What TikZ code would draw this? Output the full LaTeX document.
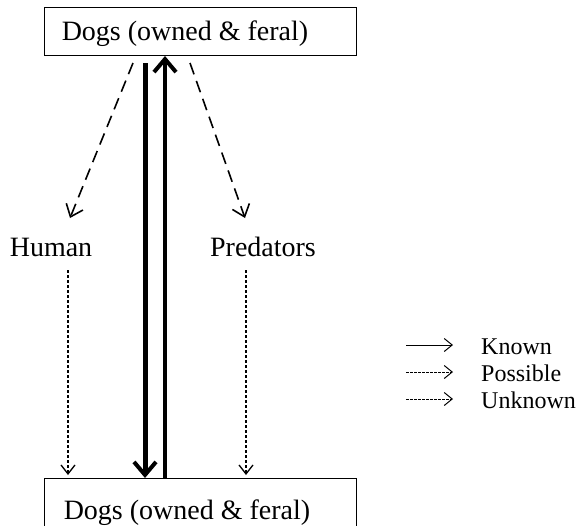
\documentclass[tikz,border=0pt]{standalone}
\usepackage{fontspec}
\setmainfont{Liberation Serif}
\usetikzlibrary{arrows.meta}
\begin{document}
\begin{tikzpicture}[x=1pt,y=-1pt,
  lbl/.style={font=\fontsize{28}{32}\selectfont,inner sep=0pt,anchor=base},
  leg/.style={font=\fontsize{24}{27}\selectfont,inner sep=0pt,anchor=base west},
  known/.style={line width=5pt,-{Straight Barb[length=13pt,width=22pt,line width=4pt]}},
  dashedarrow/.style={line width=1.6pt,dash pattern=on 12pt off 7pt,
    -{Straight Barb[length=11pt,width=18pt,line width=1.6pt]}},
  dottedarrow/.style={line width=1.4pt,dash pattern=on 3pt off 2pt,
    -{Straight Barb[length=9pt,width=14pt,line width=1.3pt]}},
  legsolid/.style={line width=1pt,-{Straight Barb[length=8pt,width=13pt,line width=1pt]}},
  legdash/.style={line width=0.8pt,dash pattern=on 2.5pt off 1.5pt,
    -{Straight Barb[length=8pt,width=13pt,line width=1pt]}}]
\useasboundingbox (0,0) rectangle (586,525);
\clip (0,0) rectangle (586,525);

% boxes
\draw[line width=0.8pt] (44,7) rectangle (356,55);
\node[lbl] (top) at (185,40) {Dogs (owned \& feral)};
\coordinate (topS1) at (145,63);
\coordinate (topS2) at (165,56);
\draw[line width=0.8pt] (44,478) rectangle (356,560);
\node[lbl] (bot) at (187,519) {Dogs (owned \& feral)};
\coordinate (botN1) at (145,478);
\coordinate (botN2) at (165,478);

% middle labels
\node[lbl] (human) at (51,256) {Human};
\node[lbl] (pred) at (263,256) {Predators};

% main arrows
\draw[known] (topS1) -- (botN1);
\draw[line width=4pt,-{Straight Barb[length=13pt,width=22pt,line width=4pt]}] (botN2) -- (topS2);

\coordinate (dl0) at (133,63);
\coordinate (dl1) at (70,218);
\coordinate (dr0) at (190,63);
\coordinate (dr1) at (245,218);
\draw[dashedarrow] (dl0) -- (dl1);
\draw[dashedarrow] (dr0) -- (dr1);

\coordinate (hl0) at (68,270);
\coordinate (hl1) at (68,475);
\coordinate (pl0) at (246,270);
\coordinate (pl1) at (246,475);
\draw[dottedarrow] (hl0) -- (hl1);
\draw[dottedarrow] (pl0) -- (pl1);

% legend
\coordinate (k0) at (406,345); \coordinate (k1) at (453,345);
\coordinate (p0) at (406,372); \coordinate (p1) at (453,372);
\coordinate (u0) at (406,399); \coordinate (u1) at (453,399);
\draw[legsolid] (k0) -- (k1);
\draw[legdash] (p0) -- (p1);
\draw[legdash] (u0) -- (u1);
\node[leg] (lk) at (481,354) {Known};
\node[leg] (lp) at (481,381) {Possible};
\node[leg] (lu) at (481,408) {Unknown};
\end{tikzpicture}
\end{document}
